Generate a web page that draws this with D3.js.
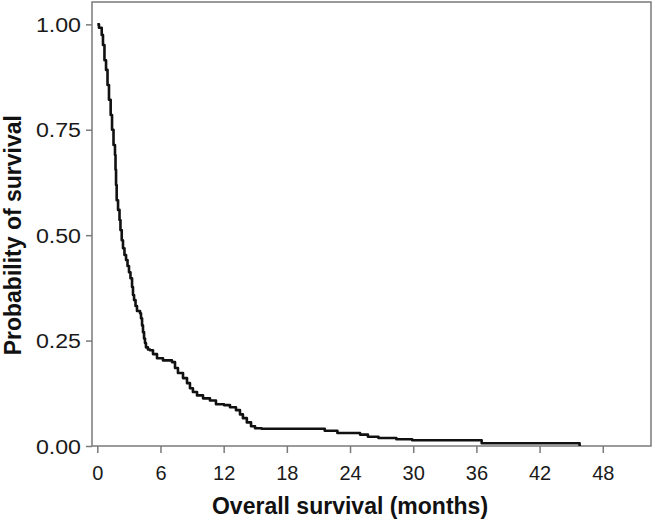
<!DOCTYPE html>
<html>
<head>
<meta charset="utf-8">
<script src="https://cdn.jsdelivr.net/npm/d3@7"></script>
<style>
  body { margin: 0; background: #fff; }
  text { font-family: "Liberation Sans", Arial, sans-serif; }
</style>
</head>
<body>
<div id="chart"></div>
<script>
// Kaplan-Meier steps (months, probability)
var months = [0, 0.16, 0.42, 0.54, 0.68, 0.83, 0.97, 1.11, 1.27, 1.4, 1.54, 1.68, 1.73, 1.78, 1.84,
  1.97, 2.11, 2.2, 2.32, 2.44, 2.58, 2.73, 2.87, 3.01, 3.15, 3.3, 3.39, 3.49, 3.63, 3.77,
  4.06, 4.15, 4.25, 4.34, 4.44, 4.53, 4.62, 4.81, 5.0, 5.29, 5.67, 6.24, 7.09, 7.38, 7.66,
  8.14, 8.52, 8.8, 9.08, 9.47, 10.04, 10.7, 11.27, 12.03, 12.6, 13.17, 13.55, 13.83, 14.2, 14.6,
  14.98, 15.6, 21.6, 22.8, 24.95, 25.7, 26.7, 28.4, 29.9, 36.5, 45.8];
var survival = [1.0, 0.992, 0.975, 0.951, 0.915, 0.892, 0.856, 0.821, 0.785, 0.75, 0.714, 0.69, 0.655, 0.619, 0.583,
  0.56, 0.536, 0.512, 0.488, 0.469, 0.453, 0.441, 0.427, 0.412, 0.398, 0.377, 0.358, 0.346, 0.332, 0.32,
  0.315, 0.303, 0.286, 0.27, 0.255, 0.244, 0.234, 0.229, 0.227, 0.218, 0.208, 0.203, 0.199, 0.185, 0.173,
  0.161, 0.149, 0.137, 0.128, 0.12, 0.113, 0.108, 0.099, 0.097, 0.092, 0.085, 0.075, 0.066, 0.056, 0.047,
  0.042, 0.041, 0.036, 0.031, 0.027, 0.022, 0.019, 0.016, 0.0135, 0.0067, 0];
var xTicks = [0, 6, 12, 18, 24, 30, 36, 42, 48];
var yTicks = [0, 0.25, 0.5, 0.75, 1.0];
var xTitle = "Overall survival (months)";
var yTitle = "Probability of survival";

var data = months.map(function (m, i) { return { month: m, value: survival[i] }; });

var margin = { top: 2, right: 3, bottom: 73, left: 92 },
  width = 654 - margin.left - margin.right,
  height = 519 - margin.top - margin.bottom;

var svg = d3.select("#chart")
  .append("svg")
  .attr("width", 654)
  .attr("height", 519)
  .append("g")
  .attr("transform", "translate(" + margin.left + "," + margin.top + ")");

var x = d3.scaleLinear()
  .domain([-0.503, 52.58])
  .range([0, width]);
var y = d3.scaleLinear()
  .domain([0, 1.053])
  .range([height, 0]);

// frame
svg.append("rect")
  .attr("width", width)
  .attr("height", height)
  .attr("fill", "none")
  .attr("stroke", "#7a7a7a")
  .attr("stroke-width", 1.5);

var xAxis = svg.append("g")
  .attr("transform", "translate(0," + height + ")")
  .call(d3.axisBottom(x).tickValues(xTicks).tickFormat(d3.format("d")).tickSize(7).tickPadding(13));
var yAxis = svg.append("g")
  .call(d3.axisLeft(y).tickValues(yTicks).tickFormat(d3.format(".2f")).tickSize(6).tickPadding(5));

[xAxis, yAxis].forEach(function (g) {
  g.select(".domain").remove();
  g.selectAll(".tick line").attr("stroke", "#7a7a7a").attr("stroke-width", 1.5);
  g.selectAll(".tick text").attr("fill", "#1a1a1a").style("font-size", "20px");
});
yAxis.selectAll(".tick text").attr("dy", "0.35em").each(function () {
  var t = d3.select(this);
  var tx = +t.attr("x");
  t.attr("x", 0).attr("transform", "translate(" + tx + ",0) scale(1.16,1)");
});

// curve
svg.append("path")
  .datum(data)
  .attr("fill", "none")
  .attr("stroke", "#111")
  .attr("stroke-width", 2.6)
  .attr("stroke-linejoin", "round")
  .attr("d", d3.line()
    .curve(d3.curveStepAfter)
    .x(function (d) { return x(d.month); })
    .y(function (d) { return y(d.value); })
  );

svg.append("text")
  .attr("x", (x(0) + x(48)) / 2)
  .attr("y", height + 67.5)
  .attr("text-anchor", "middle")
  .style("font-size", "23px")
  .style("font-weight", "bold")
  .attr("fill", "#111")
  .text(xTitle);

svg.append("text")
  .attr("transform", "translate(" + (21 - margin.left) + "," + ((y(0) + y(1)) / 2) + ") rotate(-90)")
  .attr("text-anchor", "middle")
  .style("font-size", "23px")
  .style("font-weight", "bold")
  .attr("fill", "#111")
  .text(yTitle);
</script>
</body>
</html>
